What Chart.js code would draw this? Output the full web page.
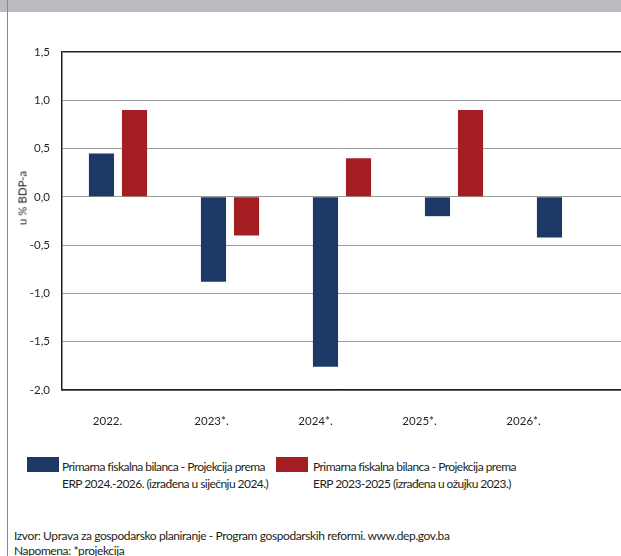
<!DOCTYPE html>
<html>
<head>
<meta charset="utf-8">
<script src="https://cdn.jsdelivr.net/npm/chart.js@4"></script>
<style>
    html, body { margin: 0; padding: 0; background: #fff; overflow: hidden; }
    body { width: 621px; height: 556px; position: relative; font-family: Lato, "Open Sans", sans-serif; color: #231f20; }
    .band { position: absolute; left: 0; top: 0; width: 621px; height: 12px; background: #bbbcbf; }
    .frame { position: absolute; left: 7px; top: 0; width: 1px; height: 556px; background: #8a8a8a; }
    #wrap { position: absolute; left: 0; top: 0; width: 640px; height: 440px; }
    .ytitle { position: absolute; left: 22px; top: 198px; transform: translate(-50%, -50%) rotate(-90deg); font-size: 11.5px; white-space: nowrap; }
    .legend { position: absolute; top: 457px; font-size: 12px; line-height: 17px; letter-spacing: -0.55px; }
    .legend .sw { position: absolute; left: 0; top: 0; width: 32px; height: 15px; }
    .legend .txt { position: absolute; top: 1px; white-space: nowrap; }
    .note { position: absolute; left: 14px; top: 528px; font-size: 12px; line-height: 15px; white-space: nowrap; letter-spacing: -0.4px; }
</style>
</head>
<body>
<div class="band"></div>
<div class="frame"></div>
<div id="wrap"><canvas id="chart"></canvas></div>
<div class="ytitle">u % BDP-a</div>
<div class="legend" style="left:27px">
    <div class="sw" style="background:#1c3864"></div>
    <div class="txt" style="left:35px" id="leg1"></div>
</div>
<div class="legend" style="left:276px">
    <div class="sw" style="background:#a51e24"></div>
    <div class="txt" style="left:37px" id="leg2"></div>
</div>
<div class="note">Izvor: Uprava za gospodarsko planiranje - Program gospodarskih reformi. www.dep.gov.ba<br>Napomena: *projekcija</div>
<script>
const categories = ['2022.', '2023*.', '2024*.', '2025*.', '2026*.'];
const erp2024 = [0.45, -0.88, -1.76, -0.2, -0.42];
const erp2023 = [0.9, -0.4, 0.4, 0.9, null];
const seriesLabels = [
    ['Primarna fiskalna bilanca - Projekcija prema', 'ERP 2024.-2026. (izrađena u siječnju 2024.)'],
    ['Primarna fiskalna bilanca - Projekcija prema', 'ERP 2023-2025 (izrađena u ožujku 2023.)']
];
const yTicks = [1.5, 1.0, 0.5, 0.0, -0.5, -1.0, -1.5, -2.0];

document.getElementById('leg1').innerHTML = seriesLabels[0].join('<br>');
document.getElementById('leg2').innerHTML = seriesLabels[1].join('<br>');

const fontFamily = 'Lato, "Open Sans", sans-serif';

new Chart(document.getElementById('chart'), {
    type: 'bar',
    data: {
        labels: categories,
        datasets: [
            {
                label: seriesLabels[0].join(' '),
                data: erp2024,
                backgroundColor: '#1c3864',
                categoryPercentage: 0.59,
                barPercentage: 0.76
            },
            {
                label: seriesLabels[1].join(' '),
                data: erp2023,
                backgroundColor: '#a51e24',
                categoryPercentage: 0.59,
                barPercentage: 0.76
            }
        ]
    },
    options: {
        responsive: true,
        maintainAspectRatio: false,
        animation: false,
        layout: { padding: { top: 52, right: 18, bottom: 0, left: 0 } },
        plugins: {
            legend: { display: false },
            tooltip: { enabled: false }
        },
        scales: {
            x: {
                grid: { display: false, drawTicks: false },
                border: { color: '#231f20', width: 1.5 },
                ticks: { display: false },
                afterFit: (s) => { s.height = 0; }
            },
            // labels in the original sit a bit left of the bar groups, on a tighter spacing
            xl: {
                type: 'linear',
                position: 'bottom',
                offset: false,
                bounds: 'data',
                min: -0.4375,
                max: 4.947,
                afterBuildTicks: (s) => { s.ticks = categories.map((c, i) => ({ value: i })); },
                grid: { display: false, drawTicks: false },
                border: { display: false },
                ticks: {
                    color: '#231f20',
                    font: { family: fontFamily, size: 11.5 },
                    padding: 24,
                    autoSkip: false,
                    maxRotation: 0,
                    callback: (v) => categories[v]
                },
                afterFit: (s) => { s.height = 50; }
            },
            y: {
                min: -2.0,
                max: 1.5,
                afterBuildTicks: (s) => { s.ticks = yTicks.map(v => ({ value: v })); },
                grid: {
                    drawTicks: false,
                    color: (c) => (c.tick && c.tick.value === 1.5) ? '#231f20' : '#9a9a9a',
                    lineWidth: (c) => (c.tick && c.tick.value === 1.5) ? 1.5 : 1
                },
                border: { color: '#231f20', width: 1.5 },
                ticks: {
                    color: '#231f20',
                    font: { family: fontFamily, size: 11.5 },
                    padding: 12,
                    callback: (v) => Number(v).toFixed(1).replace('.', ',')
                },
                afterFit: (s) => { s.width = 62; }
            }
        }
    }
});
</script>
</body>
</html>
